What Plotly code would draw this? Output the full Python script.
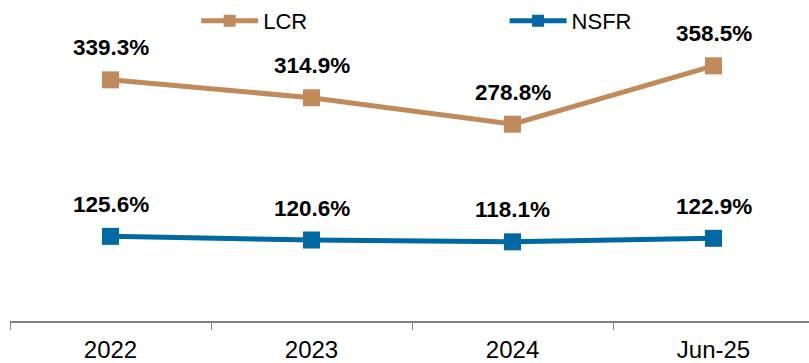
import plotly.graph_objects as go

# Liquidity ratios by period
periods = ["2022", "2023", "2024", "Jun-25"]
lcr = [339.3, 314.9, 278.8, 358.5]
nsfr = [125.6, 120.6, 118.1, 122.9]

LCR_COLOR = "#C08A5A"
NSFR_COLOR = "#0068A2"
FONT = "Liberation Sans, Arial, sans-serif"

fig = go.Figure()

series = [("LCR", lcr, LCR_COLOR, "legend"), ("NSFR", nsfr, NSFR_COLOR, "legend2")]
for name, vals, color, leg in series:
    fig.add_trace(go.Scatter(
        x=periods, y=vals, name=name, mode="lines+markers",
        line=dict(color=color, width=5),
        marker=dict(symbol="square", size=17, color=color),
        hoverinfo="skip", legend=leg,
    ))
    # value labels above each point (x given as category index)
    for i, v in enumerate(vals):
        fig.add_annotation(
            x=i, y=v, text=f"{v:.1f}%", showarrow=False,
            yanchor="middle", yshift=32,
            font=dict(family=FONT, size=22.5, color="black", weight="bold"),
        )

legend_style = dict(
    orientation="h", y=0.938, yanchor="middle", xanchor="left",
    font=dict(family=FONT, size=22, color="black"),
    itemwidth=57, bgcolor="rgba(0,0,0,0)", itemsizing="constant",
)

fig.update_layout(
    width=809, height=363,
    margin=dict(l=10, r=0, t=0, b=40),
    paper_bgcolor="white", plot_bgcolor="white",
    showlegend=True,
    legend=dict(x=0.233, **legend_style),
    legend2=dict(x=0.619, **legend_style),
    xaxis=dict(
        type="category", range=[-0.5, 3.475],
        showline=True, linecolor="#808080", linewidth=2,
        ticks="outside", tickson="boundaries", ticklen=7, tickwidth=1,
        tickcolor="#808080", showgrid=False, zeroline=False,
        tickfont=dict(family=FONT, size=24, color="black"),
        ticklabelstandoff=6,
    ),
    yaxis=dict(
        range=[10, 447], visible=False, showgrid=False, zeroline=False,
    ),
)

fig.write_html("out.html")
